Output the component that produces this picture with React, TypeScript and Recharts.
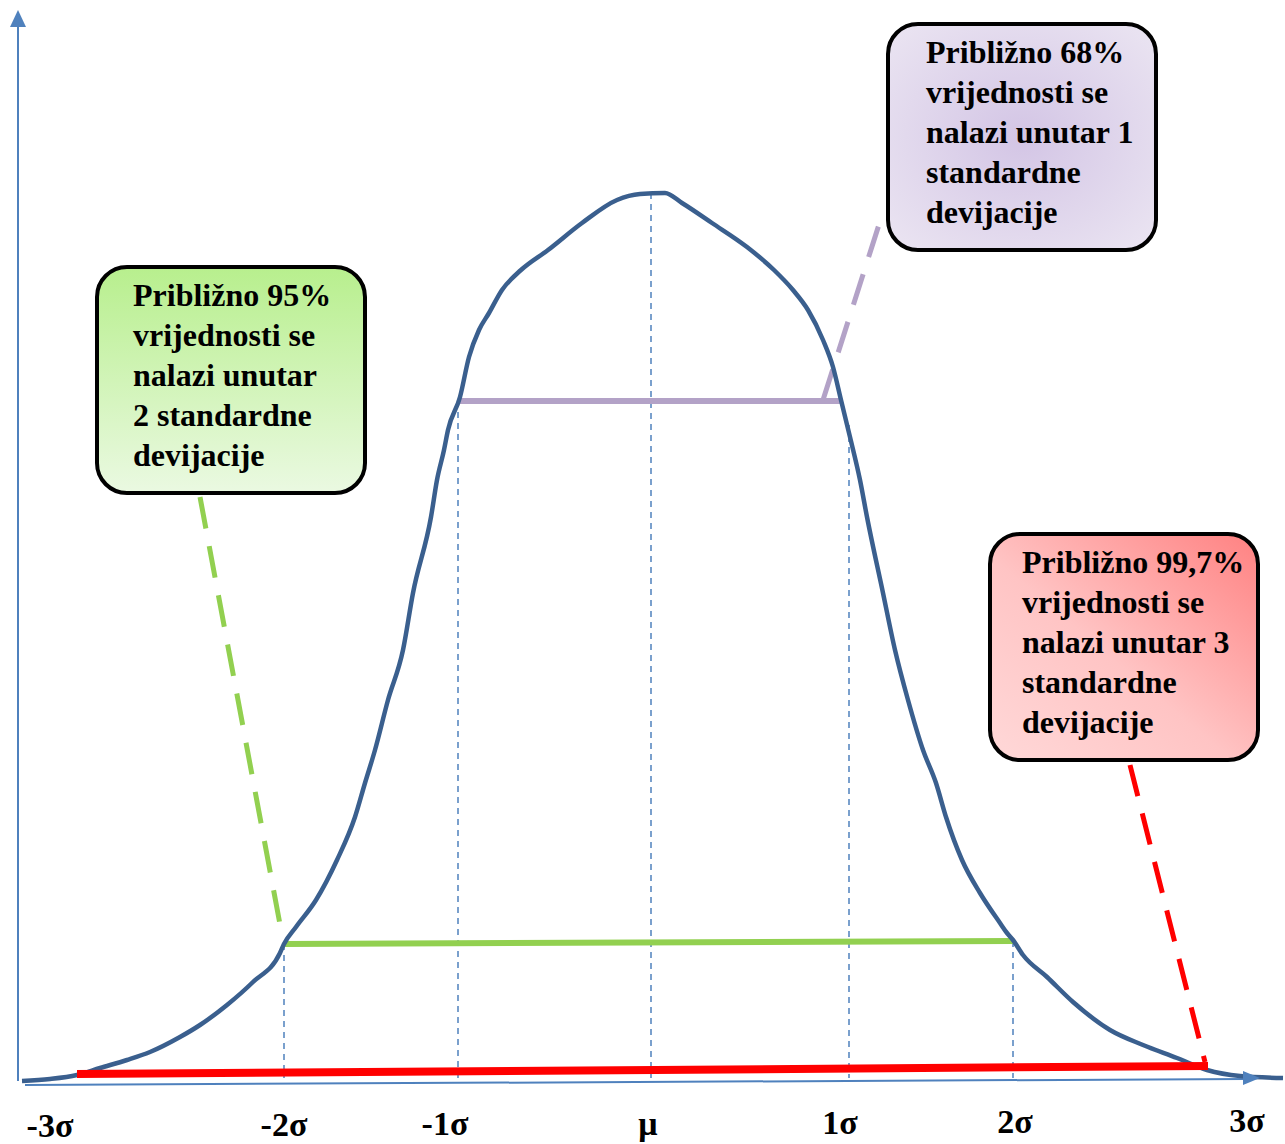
import React from "react";
import {
  ComposedChart,
  Line,
  XAxis,
  YAxis,
  ReferenceLine,
  ReferenceDot,
} from "recharts";

// bell curve: position along the axis and height above it
const curveX = [
  12, 40, 67, 90, 117, 140, 170, 190, 217, 243, 270, 274, 286, 306, 327, 345, 355, 365, 378, 393,
  403, 421, 427, 434, 438, 450, 459, 469, 479, 492, 511, 538, 572, 607, 630, 655, 672, 702, 737,
  764, 783, 798, 813, 823, 831, 840, 850, 857, 873, 885, 898, 913, 926, 936, 952, 970, 990, 997,
  1003, 1013, 1037, 1063, 1100, 1133, 1167, 1197, 1230, 1273,
];
const curveY = [
  9, 11, 15, 22, 30, 38, 53, 65, 85, 108, 137, 146, 163, 190, 230, 273, 307, 340, 390, 440, 497,
  573, 610, 640, 660, 693, 733, 760, 777, 800, 820, 840, 867, 890, 896, 897, 887, 867, 843, 820,
  800, 780, 750, 723, 690, 653, 610, 573, 497, 440, 390, 340, 307, 273, 230, 197, 167, 157, 150,
  135, 113, 88, 60, 45, 32, 20, 14, 12,
];

const sigmaLabels = ["-3σ", "-2σ", "-1σ", "μ", "1σ", "2σ", "3σ"];
const sigmaTickX = [40, 274, 435, 638, 830, 1005, 1237];

// dashed guides from the curve down to the axis
const guideX = [274, 448, 641, 839, 1003];
const guideTop = [146, 689, 897, 665, 149];
const guideBottom = 12;

// coloured ranges: [x1, y1, x2, y2]
const band68 = [448, 689, 830, 689];
const band95 = [274, 146, 1003, 149];
const band997 = [67, 16, 1198, 24];

// callout leaders: [x1, y1, x2, y2]
const leader68 = [813, 690, 873, 878];
const leader95 = [190, 593, 272, 155];
const leader997 = [1120, 325, 1195, 28];

const callouts = [
  {
    lines: ["Približno 68%", "vrijednosti se", "nalazi unutar 1", "standardne", "devijacije"],
    left: 886,
    top: 22,
    indent: 36,
    background: "radial-gradient(ellipse at 50% 50%, #d3c5e5 0%, #ebe5f2 100%)",
  },
  {
    lines: ["Približno 95%", "vrijednosti se", "nalazi unutar", "2 standardne", "devijacije"],
    left: 95,
    top: 265,
    indent: 34,
    background: "linear-gradient(to bottom, #b8ef8e 0%, #eaf9e1 100%)",
  },
  {
    lines: ["Približno 99,7%", "vrijednosti se", "nalazi unutar 3", "standardne", "devijacije"],
    left: 988,
    top: 532,
    indent: 30,
    background: "linear-gradient(to bottom left, #ff8282 0%, #ffc4c4 55%, #ffd8d8 100%)",
  },
];

const curveData = curveX.map((x, i) => ({ x, y: curveY[i] }));

const seg = (s: number[]) => [
  { x: s[0], y: s[1] },
  { x: s[2], y: s[3] },
];

const AXIS_BLUE = "#4f81bd";
const serif = "'Liberation Serif', 'Times New Roman', serif";

function SigmaTick(props: any) {
  const { x, y, payload } = props;
  const label = sigmaLabels[sigmaTickX.indexOf(payload.value)];
  const drop = 39 - (x - 50) * 0.004;
  return (
    <text
      x={x}
      y={y + drop}
      textAnchor="middle"
      fontFamily={serif}
      fontWeight="bold"
      fontSize={34}
      fill="#000"
    >
      {label}
    </text>
  );
}

const arrowUp = (p: any) => (
  <path d={`M${p.cx},${p.cy} L${p.cx - 8},${p.cy + 17} L${p.cx + 8},${p.cy + 17} Z`} fill={AXIS_BLUE} />
);
const arrowRight = (p: any) => (
  <path d={`M${p.cx},${p.cy} L${p.cx - 17},${p.cy - 7} L${p.cx - 17},${p.cy + 7} Z`} fill={AXIS_BLUE} />
);

export default function App() {
  return (
    <div style={{ position: "relative", width: 1285, height: 1144 }}>
      <style>{"body{margin:0}"}</style>
      <ComposedChart
        width={1285}
        height={1144}
        data={curveData}
        margin={{ top: 10, right: 0, bottom: 0, left: 10 }}
      >
        <XAxis
          type="number"
          dataKey="x"
          domain={[0, 1275]}
          ticks={sigmaTickX}
          interval={0}
          height={54}
          axisLine={false}
          tickLine={false}
          tick={<SigmaTick />}
        />
        <YAxis type="number" domain={[0, 1080]} hide />

        {/* axes */}
        <ReferenceLine segment={seg([8, 9, 8, 1064])} stroke={AXIS_BLUE} strokeWidth={2} ifOverflow="visible" />
        <ReferenceLine segment={seg([15, 5, 1236, 11])} stroke={AXIS_BLUE} strokeWidth={2} ifOverflow="visible" />
        <ReferenceDot x={8} y={1080} r={1} ifOverflow="visible" shape={arrowUp} />
        <ReferenceDot x={1250} y={12} r={1} ifOverflow="visible" shape={arrowRight} />

        {guideX.map((gx, i) => (
          <ReferenceLine
            key={gx}
            segment={seg([gx, guideTop[i], gx, guideBottom])}
            stroke={AXIS_BLUE}
            strokeWidth={1.5}
            strokeDasharray="6 5"
            ifOverflow="visible"
          />
        ))}

        <ReferenceLine segment={seg(band68)} stroke="#b3a2c7" strokeWidth={6} ifOverflow="visible" />
        <ReferenceLine segment={seg(band95)} stroke="#92d050" strokeWidth={6} ifOverflow="visible" />

        <ReferenceLine segment={seg(leader68)} stroke="#b3a2c7" strokeWidth={5} strokeDasharray="32 18" ifOverflow="visible" />
        <ReferenceLine segment={seg(leader95)} stroke="#92d050" strokeWidth={5} strokeDasharray="32 18" ifOverflow="visible" />
        <ReferenceLine segment={seg(leader997)} stroke="#ff0000" strokeWidth={5} strokeDasharray="32 18" ifOverflow="visible" />

        <Line
          type="monotone"
          dataKey="y"
          stroke="#3a5f8e"
          strokeWidth={4.5}
          dot={false}
          activeDot={false}
          isAnimationActive={false}
        />

        <ReferenceLine segment={seg(band997)} stroke="#ff0000" strokeWidth={8} ifOverflow="visible" />
      </ComposedChart>

      {callouts.map((c) => (
        <div
          key={c.lines[0]}
          style={{
            position: "absolute",
            left: c.left,
            top: c.top,
            width: 272,
            height: 230,
            boxSizing: "border-box",
            border: "4px solid #000",
            borderRadius: 32,
            background: c.background,
            padding: `6px 0 0 ${c.indent}px`,
            fontFamily: serif,
            fontWeight: "bold",
            fontSize: 32,
            lineHeight: "40px",
            color: "#000",
            whiteSpace: "nowrap",
          }}
        >
          {c.lines.map((l) => (
            <div key={l}>{l}</div>
          ))}
        </div>
      ))}
    </div>
  );
}
